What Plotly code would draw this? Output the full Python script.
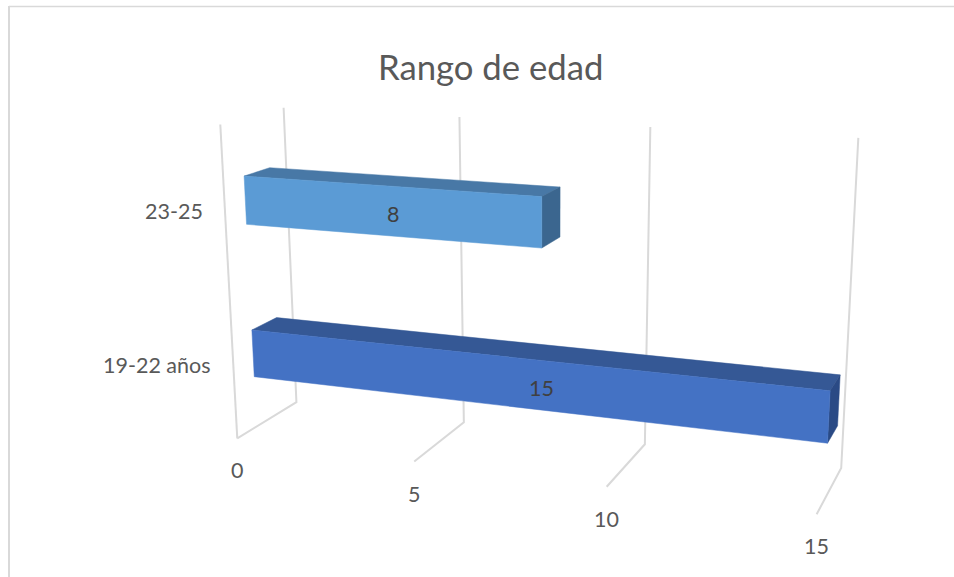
import numpy as np
import plotly.graph_objects as go

# Chart data
title = "Rango de edad"
categories = ["19-22 años", "23-25"]
values = [15, 8]
tick_values = [0, 5, 10, 15]

# Colours per category: front, top and end faces of each bar
front_colors = ["#4472C4", "#5B9BD5"]
top_colors = ["#355895", "#4878A6"]
side_colors = ["#2A4A85", "#3B668F"]
grid_color = "#D9D9D9"
text_color = "#595959"
label_color = "#404040"
font = "Lato"

W, H = 954, 577

# Oblique view: where the corners of the chart box land on the page.
# A box point is (value, depth 0..1 front to back, height 0..1 floor to top).
box_points = [
    (0, 0, 0), (0, 1, 0), (0, 1, 1), (0, 0, 1),
    (5, 0, 0), (5, 1, 0), (5, 1, 1),
    (10, 0, 0), (10, 1, 0), (10, 1, 1),
    (15, 0, 0), (15, 1, 0), (15, 1, 1),
]
page_points = [
    (237, 437.5), (297, 402.5), (283.5, 107), (220.5, 125),
    (414, 462), (463.5, 423), (459.5, 117),
    (606.7, 487), (645, 444), (650, 127),
    (817, 514), (841, 467.7), (858.5, 138),
]


def fit_view(box, page):
    rows, rhs = [], []
    for (a, b, c), (u, v) in zip(box, page):
        rows.append([a, b, c, 1, 0, 0, 0, 0, -u * a, -u * b, -u * c])
        rhs.append(u)
        rows.append([0, 0, 0, 0, a, b, c, 1, -v * a, -v * b, -v * c])
        rhs.append(v)
    p = np.linalg.lstsq(np.array(rows, float), np.array(rhs, float), rcond=None)[0]
    return np.append(p, 1.0).reshape(3, 4)


VIEW = fit_view(box_points, page_points)


def project(value, depth, height):
    q = VIEW @ np.array([value, depth, height, 1.0])
    return q[0] / q[2], q[1] / q[2]


def path(corners):
    pts = [project(*c) for c in corners]
    pts.append(pts[0])
    return [p[0] for p in pts], [p[1] for p in pts]


fig = go.Figure()


def add_line(corners, width=2):
    xs = [project(*c)[0] for c in corners]
    ys = [project(*c)[1] for c in corners]
    fig.add_trace(go.Scatter(x=xs, y=ys, mode="lines", hoverinfo="skip",
                             line=dict(color=grid_color, width=width)))


def add_face(corners, color):
    xs, ys = path(corners)
    fig.add_trace(go.Scatter(x=xs, y=ys, mode="lines", fill="toself",
                             fillcolor=color, hoverinfo="skip",
                             line=dict(color=color, width=0.5)))


# Gridlines: along the floor and up the back wall; the zero line also has a front edge
for t in tick_values:
    add_line([(t, 0, 0), (t, 1, 0), (t, 1, 1)])
add_line([(tick_values[0], 0, 0), (tick_values[0], 0, 1)])

# Bar placement inside the box
DEPTH_FRONT, DEPTH_BACK = 0.315, 0.725
band_low = [0.169, 0.669]
band_high = [0.325, 0.822]
category_height = [0.244, 0.734]

for i, val in enumerate(values):
    lo, hi = band_low[i], band_high[i]
    d0, d1 = DEPTH_FRONT, DEPTH_BACK
    add_face([(0, d0, hi), (val, d0, hi), (val, d1, hi), (0, d1, hi)], top_colors[i])
    add_face([(val, d0, lo), (val, d1, lo), (val, d1, hi), (val, d0, hi)], side_colors[i])
    add_face([(0, d0, lo), (val, d0, lo), (val, d0, hi), (0, d0, hi)], front_colors[i])

annotations = []
for t in tick_values:
    x, y = project(t, 0, 0)
    annotations.append(dict(x=x, y=y, yshift=-32, text=str(t), showarrow=False,
                            font=dict(family=font, size=21.5, color=text_color)))

for i, cat in enumerate(categories):
    x, y = project(0, 0, category_height[i])
    annotations.append(dict(x=x, y=y, xshift=-20, xanchor="right", text=cat, showarrow=False,
                            font=dict(family=font, size=21.5, color=text_color)))
    # Value label sits at the middle of the front face as drawn
    face = [project(0, DEPTH_FRONT, band_low[i]), project(values[i], DEPTH_FRONT, band_high[i])]
    annotations.append(dict(x=(face[0][0] + face[1][0]) / 2, y=(face[0][1] + face[1][1]) / 2,
                            xshift=-1, yshift=-4, text=str(values[i]), showarrow=False,
                            font=dict(family=font, size=21.5, color=label_color)))

annotations.append(dict(x=490, y=66, text=title, showarrow=False,
                        font=dict(family=font, size=34.7, color=text_color)))

fig.update_layout(
    width=W, height=H, margin=dict(l=0, r=0, t=0, b=0),
    paper_bgcolor="white", plot_bgcolor="white", showlegend=False,
    xaxis=dict(range=[0, W], visible=False, fixedrange=True),
    yaxis=dict(range=[H, 0], visible=False, fixedrange=True),
    annotations=annotations,
    shapes=[
        dict(type="line", x0=9, x1=W, y0=6.5, y1=6.5, xref="x", yref="y",
             line=dict(color=grid_color, width=1.5)),
        dict(type="line", x0=9, x1=9, y0=6, y1=H, xref="x", yref="y",
             line=dict(color=grid_color, width=2)),
    ],
)

fig.write_html("out.html", config={"displayModeBar": False})
